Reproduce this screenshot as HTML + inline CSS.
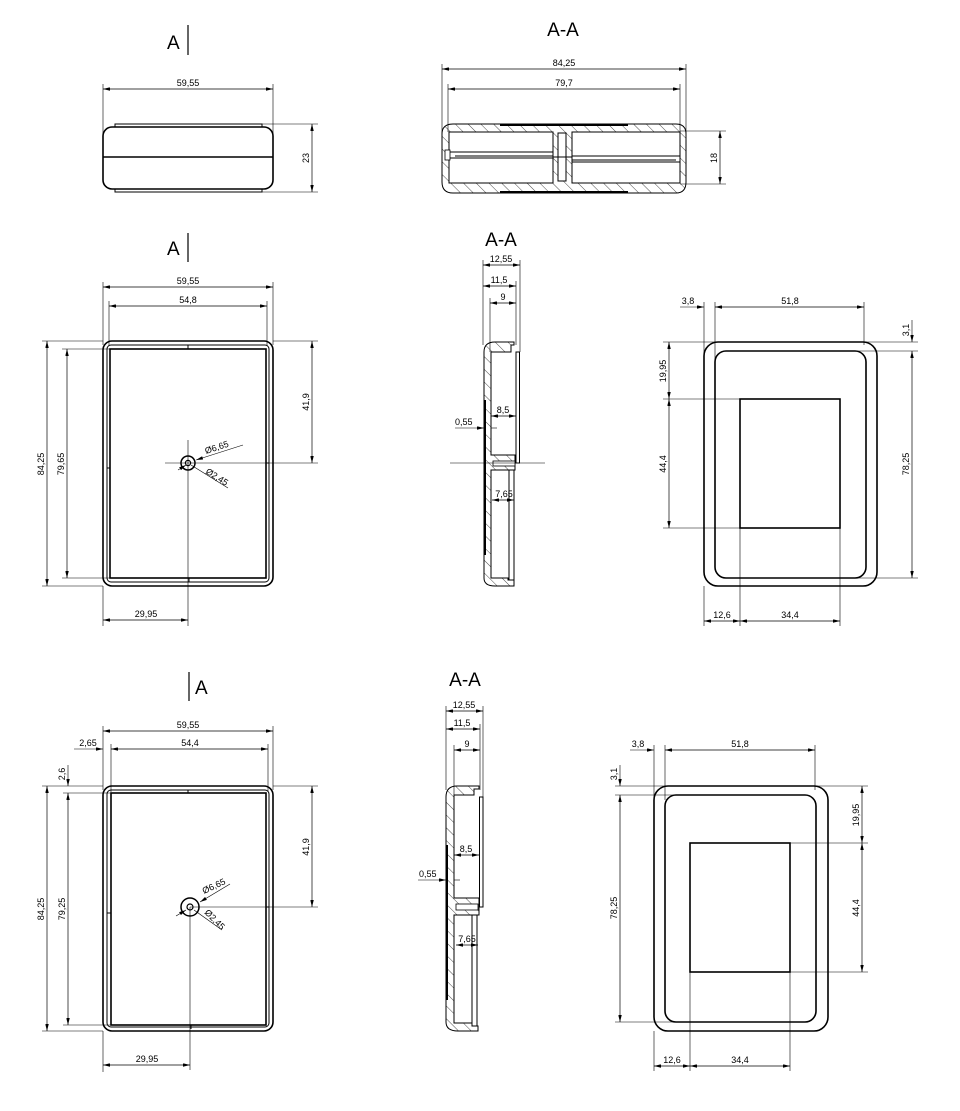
<!DOCTYPE html>
<html><head><meta charset="utf-8"><style>
html,body{margin:0;padding:0;background:#fff}
svg{display:block}
text{font-family:"Liberation Sans",sans-serif;fill:#000}
.d{font-size:9px}
.t{font-size:19px}
.o{fill:none;stroke:#000;stroke-width:1.6}
.m{fill:none;stroke:#000;stroke-width:1}
.e{fill:none;stroke:#000;stroke-width:0.6}
.dl{fill:none;stroke:#000;stroke-width:0.7;marker-start:url(#a);marker-end:url(#a)}
.h{fill:url(#hat);stroke:#000;stroke-width:1}
</style></head><body>
<svg width="960" height="1111" viewBox="0 0 960 1111" xmlns="http://www.w3.org/2000/svg">
<defs>
<marker id="a" viewBox="0 0 10 10" refX="10" refY="5" markerWidth="7" markerHeight="3.5" preserveAspectRatio="none" orient="auto-start-reverse" markerUnits="userSpaceOnUse">
<path d="M0,0 L10,5 L0,10 z" fill="#000"/>
</marker>
<pattern id="hat" width="9" height="9" patternUnits="userSpaceOnUse" patternTransform="rotate(-45)">
<line x1="0" y1="0" x2="0" y2="9" stroke="#000" stroke-width="0.7"/>
</pattern>
</defs>

<!-- ===== TOP LEFT ===== -->
<text class="t" x="167" y="49">A</text>
<line x1="188" y1="25" x2="188" y2="55" stroke="#000" stroke-width="1.2"/>
<line class="e" x1="103" y1="84" x2="103" y2="160"/>
<line class="e" x1="273" y1="84" x2="273" y2="160"/>
<line class="dl" x1="103" y1="89" x2="273" y2="89"/>
<text class="d" x="188" y="86" text-anchor="middle">59,55</text>
<path class="m" d="M115,127 L115,124 L262,124 L262,127"/>
<path class="m" d="M115,189 L115,192 L262,192 L262,189"/>
<rect class="o" x="103" y="127" width="170" height="62" rx="9"/>
<line class="o" x1="103" y1="157" x2="273" y2="157"/>
<line class="e" x1="262" y1="124" x2="318" y2="124"/>
<line class="e" x1="262" y1="192" x2="318" y2="192"/>
<line class="dl" x1="312" y1="124" x2="312" y2="192"/>
<text class="d" transform="translate(309,158) rotate(-90)" text-anchor="middle">23</text>

<!-- ===== TOP RIGHT (A-A) ===== -->
<text class="t" x="563" y="36" text-anchor="middle">A-A</text>
<line class="e" x1="442" y1="64" x2="442" y2="150"/>
<line class="e" x1="686" y1="64" x2="686" y2="150"/>
<line class="dl" x1="442" y1="69" x2="686" y2="69"/>
<text class="d" x="564" y="66" text-anchor="middle">84,25</text>
<line class="e" x1="448" y1="84" x2="448" y2="132"/>
<line class="e" x1="680" y1="84" x2="680" y2="132"/>
<line class="dl" x1="448" y1="89" x2="680" y2="89"/>
<text class="d" x="564" y="86" text-anchor="middle">79,7</text>
<path class="h" d="M453,124 L676,124 Q686,124 686,134 L686,182 Q686,193 676,193 L453,193 Q442,193 442,182 L442,134 Q442,124 453,124 Z"/>
<rect x="449" y="132" width="104" height="51" fill="#fff" stroke="#000" stroke-width="1"/>
<rect x="572" y="132" width="108" height="51" fill="#fff" stroke="#000" stroke-width="1"/>
<rect x="558" y="133" width="8" height="48" fill="#fff" stroke="#000" stroke-width="1"/>
<line x1="500" y1="125" x2="628" y2="125" stroke="#000" stroke-width="2"/>
<line x1="500" y1="192" x2="628" y2="192" stroke="#000" stroke-width="2"/>
<path class="m" d="M445,152 L553,152 M455,156 L553,156 M445,158 L553,158 M553,157 L572,157"/>
<path class="m" d="M572,156 L680,156 M572,160 L676,160 M572,162 L680,162"/>
<rect x="445" y="150" width="5" height="10" fill="#fff" stroke="#000" stroke-width="0.8"/>
<line class="e" x1="680" y1="131" x2="726" y2="131"/>
<line class="e" x1="680" y1="184" x2="726" y2="184"/>
<line class="dl" x1="720" y1="131" x2="720" y2="184"/>
<text class="d" transform="translate(717,158) rotate(-90)" text-anchor="middle">18</text>

<!-- ===== MIDDLE LEFT ===== -->
<text class="t" x="167" y="255">A</text>
<line x1="188" y1="233" x2="188" y2="262" stroke="#000" stroke-width="1.2"/>
<line class="e" x1="103" y1="282" x2="103" y2="345"/>
<line class="e" x1="273" y1="282" x2="273" y2="345"/>
<line class="dl" x1="103" y1="287" x2="273" y2="287"/>
<text class="d" x="188" y="284" text-anchor="middle">59,55</text>
<line class="e" x1="109" y1="301" x2="109" y2="346"/>
<line class="e" x1="267" y1="301" x2="267" y2="346"/>
<line class="dl" x1="109" y1="306" x2="267" y2="306"/>
<text class="d" x="188" y="303" text-anchor="middle">54,8</text>
<rect class="o" x="103" y="341" width="170" height="245" rx="9"/>
<rect class="m" x="107" y="345" width="162" height="237" rx="4"/>
<rect class="o" x="110" y="349" width="156" height="229"/>
<line class="m" x1="188" y1="345" x2="188" y2="349"/>
<line class="m" x1="189" y1="578" x2="189" y2="582"/>
<line class="m" x1="107" y1="468" x2="110" y2="468"/>
<line class="m" x1="266" y1="463" x2="269" y2="463"/>
<line class="e" x1="42" y1="341" x2="103" y2="341"/>
<line class="e" x1="42" y1="586" x2="103" y2="586"/>
<line class="dl" x1="47" y1="341" x2="47" y2="586"/>
<text class="d" transform="translate(44,464) rotate(-90)" text-anchor="middle">84,25</text>
<line class="e" x1="62" y1="349" x2="110" y2="349"/>
<line class="e" x1="62" y1="578" x2="110" y2="578"/>
<line class="dl" x1="67" y1="349" x2="67" y2="578"/>
<text class="d" transform="translate(64,464) rotate(-90)" text-anchor="middle">79,65</text>
<line class="e" x1="273" y1="341" x2="318" y2="341"/>
<line class="e" x1="165" y1="463" x2="318" y2="463"/>
<line class="dl" x1="312" y1="341" x2="312" y2="463"/>
<text class="d" transform="translate(309,402) rotate(-90)" text-anchor="middle">41,9</text>
<line class="e" x1="188" y1="440" x2="188" y2="626"/>
<circle cx="188" cy="463" r="7" fill="none" stroke="#000" stroke-width="1.5"/>
<circle cx="188" cy="463" r="2.6" fill="none" stroke="#000" stroke-width="1.2"/>
<line class="e" x1="243" y1="445" x2="196" y2="460" marker-end="url(#a)"/>
<text class="d" transform="translate(206,454) rotate(-18)">Ø6,65</text>
<line class="e" x1="228" y1="488" x2="191" y2="465"/>
<line class="e" x1="178" y1="470" x2="186" y2="465" marker-end="url(#a)"/>
<text class="d" transform="translate(205,473) rotate(32)">Ø2,45</text>
<line class="e" x1="103" y1="586" x2="103" y2="626"/>
<line class="dl" x1="103" y1="620" x2="188" y2="620"/>
<text class="d" x="146" y="617" text-anchor="middle">29,95</text>

<!-- ===== MIDDLE SECTION ===== -->
<text class="t" x="501" y="246" text-anchor="middle">A-A</text>
<line class="e" x1="483" y1="260" x2="483" y2="345"/>
<line class="e" x1="520" y1="260" x2="520" y2="352"/>
<line class="dl" x1="483" y1="265" x2="520" y2="265"/>
<text class="d" x="501" y="262" text-anchor="middle">12,55</text>
<line class="e" x1="516" y1="281" x2="516" y2="345"/>
<line class="dl" x1="483" y1="286" x2="516" y2="286"/>
<text class="d" x="499" y="283" text-anchor="middle">11,5</text>
<line class="e" x1="490" y1="298" x2="490" y2="352"/>
<line class="dl" x1="490" y1="303" x2="516" y2="303"/>
<text class="d" x="503" y="300" text-anchor="middle">9</text>
<path class="h" d="M484,352 Q484,342 495,342 L514,342 L514,345 L511,345 L511,352 L491,352 L491,455 L515,455 L515,470 L491,470 L491,578 L508,578 L508,580 L514,580 L514,586 L495,586 Q484,586 484,578 Z"/>
<rect x="516" y="352" width="3.5" height="111" fill="#fff" stroke="#000" stroke-width="1"/>
<line x1="485" y1="400" x2="485" y2="555" stroke="#000" stroke-width="2"/>
<rect x="493" y="461" width="22" height="5" fill="#fff" stroke="#000" stroke-width="0.8"/>
<line class="m" x1="509" y1="470" x2="509" y2="580"/>
<line class="m" x1="514" y1="470" x2="514" y2="580"/>
<line class="e" x1="450" y1="463" x2="545" y2="463"/>
<line class="dl" x1="491" y1="416" x2="516" y2="416"/>
<text class="d" x="503" y="413" text-anchor="middle">8,5</text>
<line class="e" x1="455" y1="428" x2="484" y2="428" marker-end="url(#a)"/>
<line class="e" x1="491" y1="428" x2="497" y2="428"/>
<text class="d" x="455" y="425">0,55</text>
<line class="dl" x1="492" y1="500" x2="514" y2="500"/>
<text class="d" x="504" y="497" text-anchor="middle">7,65</text>

<!-- ===== MIDDLE RIGHT ===== -->
<line class="e" x1="704" y1="302" x2="704" y2="360"/>
<line class="e" x1="715" y1="302" x2="715" y2="360"/>
<line class="e" x1="864" y1="302" x2="864" y2="345"/>
<line class="e" x1="680" y1="307" x2="704" y2="307" marker-end="url(#a)"/>
<line class="dl" x1="715" y1="307" x2="864" y2="307"/>
<text class="d" x="688" y="304" text-anchor="middle">3,8</text>
<text class="d" x="790" y="304" text-anchor="middle">51,8</text>
<rect class="o" x="704" y="342" width="173" height="244" rx="14"/>
<rect class="o" x="715" y="351" width="151" height="227" rx="11"/>
<rect class="o" x="740" y="399" width="100" height="129"/>
<line class="e" x1="663" y1="342" x2="918" y2="342"/>
<line class="e" x1="855" y1="351" x2="918" y2="351"/>
<line class="e" x1="855" y1="578" x2="918" y2="578"/>
<line class="e" x1="912" y1="320" x2="912" y2="342" marker-end="url(#a)"/>
<line class="dl" x1="912" y1="351" x2="912" y2="578"/>
<text class="d" transform="translate(909,330) rotate(-90)" text-anchor="middle">3,1</text>
<text class="d" transform="translate(909,464) rotate(-90)" text-anchor="middle">78,25</text>
<line class="e" x1="663" y1="399" x2="740" y2="399"/>
<line class="e" x1="663" y1="528" x2="740" y2="528"/>
<line class="dl" x1="669" y1="342" x2="669" y2="399"/>
<line class="dl" x1="669" y1="399" x2="669" y2="528"/>
<text class="d" transform="translate(666,371) rotate(-90)" text-anchor="middle">19,95</text>
<text class="d" transform="translate(666,464) rotate(-90)" text-anchor="middle">44,4</text>
<line class="e" x1="704" y1="586" x2="704" y2="626"/>
<line class="e" x1="740" y1="528" x2="740" y2="626"/>
<line class="e" x1="840" y1="528" x2="840" y2="626"/>
<line class="dl" x1="704" y1="621" x2="740" y2="621"/>
<line class="dl" x1="740" y1="621" x2="840" y2="621"/>
<text class="d" x="722" y="618" text-anchor="middle">12,6</text>
<text class="d" x="790" y="618" text-anchor="middle">34,4</text>

<!-- ===== BOTTOM LEFT ===== -->
<line x1="189" y1="672" x2="189" y2="701" stroke="#000" stroke-width="1.2"/>
<text class="t" x="195" y="694">A</text>
<line class="e" x1="103" y1="726" x2="103" y2="790"/>
<line class="e" x1="273" y1="726" x2="273" y2="790"/>
<line class="dl" x1="103" y1="731" x2="273" y2="731"/>
<text class="d" x="188" y="728" text-anchor="middle">59,55</text>
<line class="e" x1="111" y1="744" x2="111" y2="792"/>
<line class="e" x1="268" y1="744" x2="268" y2="792"/>
<line class="e" x1="74" y1="749" x2="103" y2="749" marker-end="url(#a)"/>
<line class="dl" x1="111" y1="749" x2="268" y2="749"/>
<text class="d" x="88" y="746" text-anchor="middle">2,65</text>
<text class="d" x="190" y="746" text-anchor="middle">54,4</text>
<rect class="o" x="103" y="786" width="170" height="245" rx="9"/>
<rect class="m" x="107" y="790" width="162" height="237" rx="4"/>
<rect class="o" x="111" y="793" width="155" height="232"/>
<line class="m" x1="188" y1="790" x2="188" y2="793"/>
<line class="m" x1="191" y1="1025" x2="191" y2="1029"/>
<line class="m" x1="107" y1="913" x2="111" y2="913"/>
<line class="m" x1="266" y1="907" x2="269" y2="907"/>
<line class="e" x1="42" y1="786" x2="103" y2="786"/>
<line class="e" x1="42" y1="1031" x2="103" y2="1031"/>
<line class="dl" x1="47" y1="786" x2="47" y2="1031"/>
<text class="d" transform="translate(44,909) rotate(-90)" text-anchor="middle">84,25</text>
<line class="e" x1="63" y1="793" x2="111" y2="793"/>
<line class="e" x1="63" y1="1025" x2="111" y2="1025"/>
<line class="e" x1="68" y1="765" x2="68" y2="786" marker-end="url(#a)"/>
<line class="dl" x1="68" y1="793" x2="68" y2="1025"/>
<text class="d" transform="translate(65,774) rotate(-90)" text-anchor="middle">2,6</text>
<text class="d" transform="translate(65,909) rotate(-90)" text-anchor="middle">79,25</text>
<line class="e" x1="273" y1="786" x2="318" y2="786"/>
<line class="e" x1="190" y1="907" x2="318" y2="907"/>
<line class="dl" x1="312" y1="786" x2="312" y2="907"/>
<text class="d" transform="translate(309,847) rotate(-90)" text-anchor="middle">41,9</text>
<line class="e" x1="190" y1="907" x2="190" y2="1070"/>
<circle cx="190" cy="907" r="9" fill="none" stroke="#000" stroke-width="1.5"/>
<circle cx="190" cy="907" r="3" fill="none" stroke="#000" stroke-width="1.2"/>
<line class="e" x1="230" y1="884" x2="200" y2="902" marker-end="url(#a)"/>
<text class="d" transform="translate(204,894) rotate(-25)">Ø6,65</text>
<line class="e" x1="222" y1="930" x2="194" y2="910"/>
<line class="e" x1="176" y1="916" x2="186" y2="910" marker-end="url(#a)"/>
<text class="d" transform="translate(204,913) rotate(45)">Ø2,45</text>
<line class="e" x1="103" y1="1031" x2="103" y2="1072"/>
<line class="dl" x1="103" y1="1065" x2="190" y2="1065"/>
<text class="d" x="147" y="1062" text-anchor="middle">29,95</text>

<!-- ===== BOTTOM SECTION ===== -->
<text class="t" x="465" y="686" text-anchor="middle">A-A</text>
<line class="e" x1="446" y1="706" x2="446" y2="790"/>
<line class="e" x1="483" y1="706" x2="483" y2="798"/>
<line class="dl" x1="446" y1="711" x2="483" y2="711"/>
<text class="d" x="464" y="708" text-anchor="middle">12,55</text>
<line class="e" x1="480" y1="724" x2="480" y2="790"/>
<line class="dl" x1="446" y1="729" x2="480" y2="729"/>
<text class="d" x="462" y="726" text-anchor="middle">11,5</text>
<line class="e" x1="454" y1="745" x2="454" y2="798"/>
<line class="dl" x1="454" y1="750" x2="480" y2="750"/>
<text class="d" x="467" y="747" text-anchor="middle">9</text>
<path class="h" d="M446,797 Q446,786 457,786 L479,786 L479,789 L474,789 L474,795 L454,795 L454,898 L479,898 L479,915 L454,915 L454,1023 L472,1023 L472,1026 L478,1026 L478,1031 L458,1031 Q446,1031 446,1022 Z"/>
<rect x="479.5" y="797" width="3.5" height="110" fill="#fff" stroke="#000" stroke-width="1"/>
<line x1="447" y1="845" x2="447" y2="1000" stroke="#000" stroke-width="2"/>
<rect x="456" y="904" width="22" height="6" fill="#fff" stroke="#000" stroke-width="0.8"/>
<line class="m" x1="472" y1="915" x2="472" y2="1026"/>
<line class="m" x1="477" y1="915" x2="477" y2="1026"/>
<line class="dl" x1="454" y1="855" x2="479" y2="855"/>
<text class="d" x="466" y="852" text-anchor="middle">8,5</text>
<line class="e" x1="418" y1="880" x2="446" y2="880" marker-end="url(#a)"/>
<line class="e" x1="454" y1="880" x2="460" y2="880"/>
<text class="d" x="419" y="877">0,55</text>
<line class="dl" x1="456" y1="945" x2="478" y2="945"/>
<text class="d" x="467" y="942" text-anchor="middle">7,65</text>

<!-- ===== BOTTOM RIGHT ===== -->
<line class="e" x1="654" y1="745" x2="654" y2="800"/>
<line class="e" x1="665" y1="745" x2="665" y2="800"/>
<line class="e" x1="815" y1="745" x2="815" y2="790"/>
<line class="e" x1="630" y1="750" x2="654" y2="750" marker-end="url(#a)"/>
<line class="dl" x1="665" y1="750" x2="815" y2="750"/>
<text class="d" x="638" y="747" text-anchor="middle">3,8</text>
<text class="d" x="740" y="747" text-anchor="middle">51,8</text>
<rect class="o" x="654" y="786" width="174" height="245" rx="14"/>
<rect class="o" x="665" y="795" width="151" height="227" rx="11"/>
<rect class="o" x="690" y="843" width="100" height="129"/>
<line class="e" x1="615" y1="786" x2="868" y2="786"/>
<line class="e" x1="615" y1="795" x2="675" y2="795"/>
<line class="e" x1="615" y1="1022" x2="675" y2="1022"/>
<line class="e" x1="620" y1="765" x2="620" y2="786" marker-end="url(#a)"/>
<line class="dl" x1="620" y1="795" x2="620" y2="1022"/>
<text class="d" transform="translate(617,774) rotate(-90)" text-anchor="middle">3,1</text>
<text class="d" transform="translate(617,908) rotate(-90)" text-anchor="middle">78,25</text>
<line class="e" x1="790" y1="843" x2="868" y2="843"/>
<line class="e" x1="790" y1="972" x2="868" y2="972"/>
<line class="dl" x1="862" y1="786" x2="862" y2="843"/>
<line class="dl" x1="862" y1="843" x2="862" y2="972"/>
<text class="d" transform="translate(859,815) rotate(-90)" text-anchor="middle">19,95</text>
<text class="d" transform="translate(859,908) rotate(-90)" text-anchor="middle">44,4</text>
<line class="e" x1="654" y1="1031" x2="654" y2="1071"/>
<line class="e" x1="690" y1="972" x2="690" y2="1071"/>
<line class="e" x1="790" y1="972" x2="790" y2="1071"/>
<line class="dl" x1="654" y1="1066" x2="690" y2="1066"/>
<line class="dl" x1="690" y1="1066" x2="790" y2="1066"/>
<text class="d" x="672" y="1063" text-anchor="middle">12,6</text>
<text class="d" x="740" y="1063" text-anchor="middle">34,4</text>
</svg>
</body></html>
